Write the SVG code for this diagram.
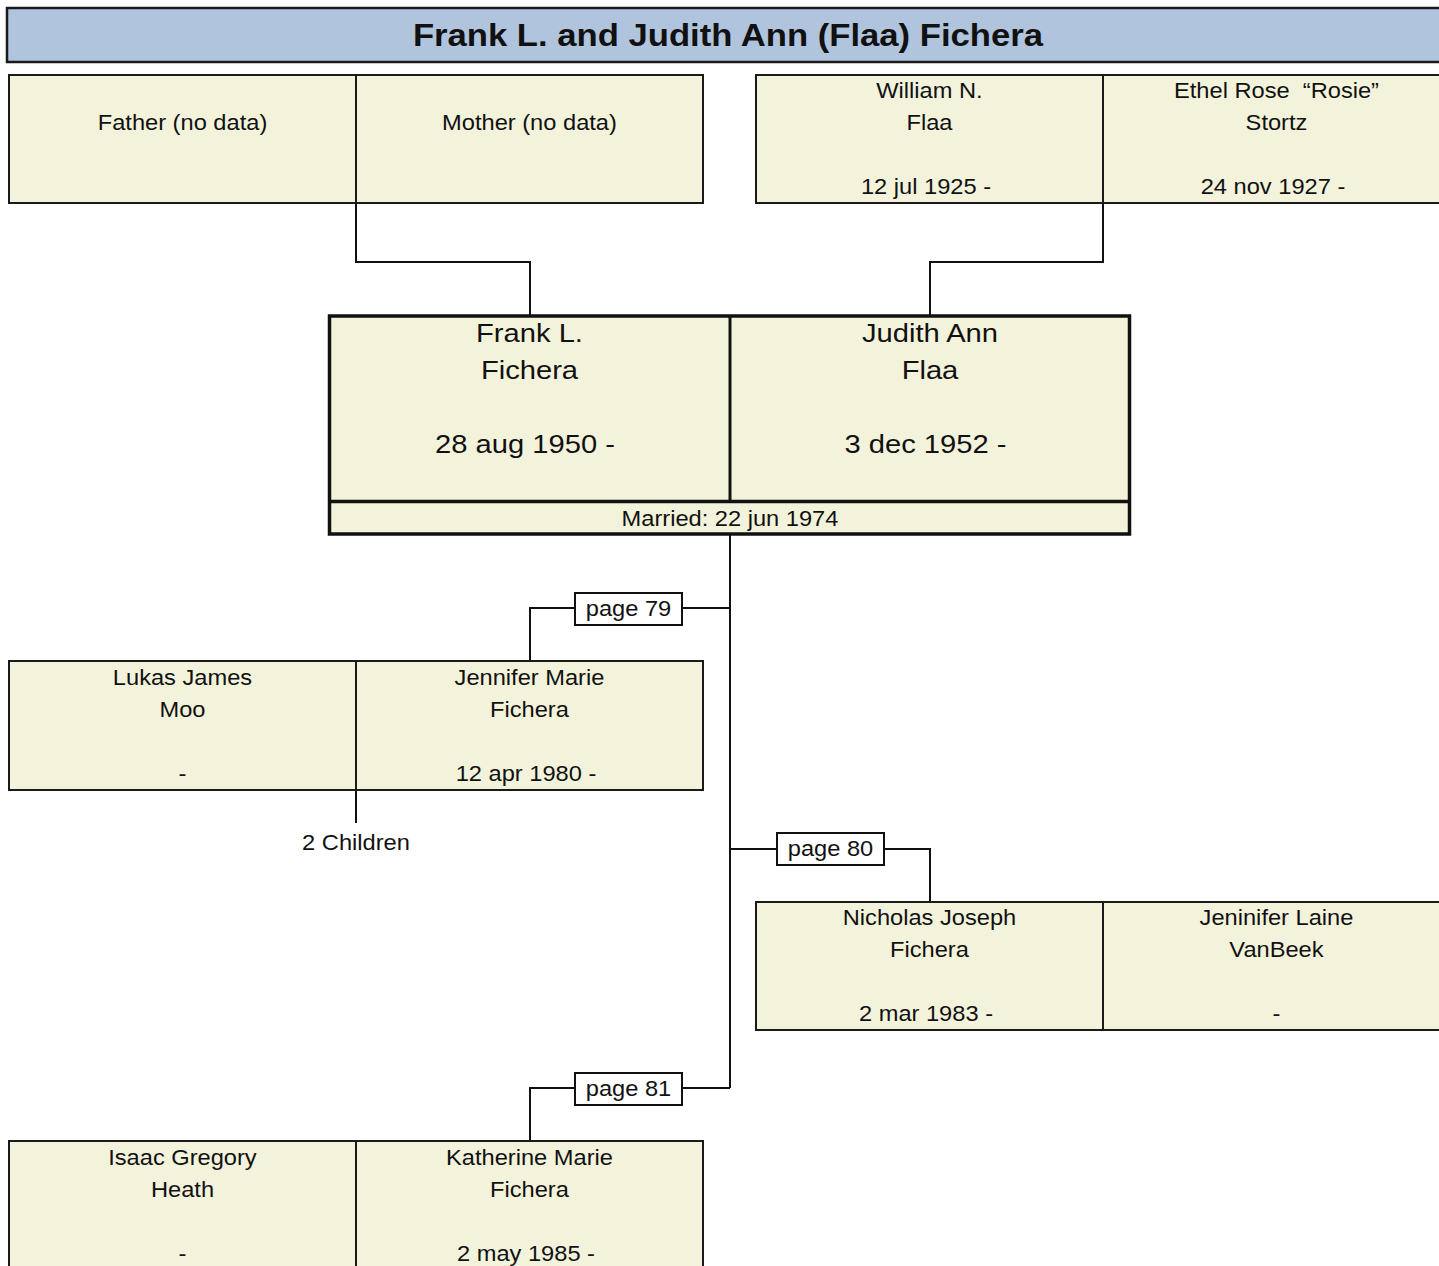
<svg xmlns="http://www.w3.org/2000/svg" width="1439" height="1266" viewBox="0 0 1439 1266">
<style>
.t{font-family:"Liberation Sans",Arial,sans-serif;font-size:21.5px;fill:#111;text-anchor:middle;transform-box:fill-box;transform-origin:center;transform:scaleX(1.1);white-space:pre}
.big{font-size:26.5px}
.title{font-weight:bold;font-size:31.5px}
.box{fill:#F3F3DC;stroke:#1a1a1a;stroke-width:2}
.main{fill:#F3F3DC;stroke:#111;stroke-width:3.5}
.pg{fill:#fff;stroke:#111;stroke-width:2}
.ln{fill:none;stroke:#111;stroke-width:2}
</style>
<rect width="1439" height="1266" fill="#fff"/>
<g id="title">
<rect x="7" y="8" width="1450" height="54" fill="#B0C4DE" stroke="#1a1a1a" stroke-width="2.5"/>
<text class="t title" x="728" y="46">Frank L. and Judith Ann (Flaa) Fichera</text>
</g>
<g id="connectors">
<path class="ln" d="M356 203V262H530V315"/>
<path class="ln" d="M1103 203V262H930V315"/>
<path class="ln" d="M730 535V1088"/>
<path class="ln" d="M730 608H682M575 608H530V661"/>
<path class="ln" d="M730 849H777M884 849H930V902"/>
<path class="ln" d="M730 1088H682M575 1088H530V1141"/>
<path class="ln" d="M356 790V823"/>
</g>
<g id="paternal-parents">
<rect class="box" x="9" y="75" width="347" height="128"/>
<rect class="box" x="356" y="75" width="347" height="128"/>
<text class="t" x="182.5" y="130">Father (no data)</text>
<text class="t" x="529.5" y="130">Mother (no data)</text>
</g>
<g id="maternal-parents">
<rect class="box" x="756" y="75" width="347" height="128"/>
<rect class="box" x="1103" y="75" width="347" height="128"/>
<text class="t" x="929.5" y="98">William N.</text>
<text class="t" x="929.5" y="130">Flaa</text>
<text class="t" x="926" y="194">12 jul 1925 -</text>
<text class="t" x="1276.5" y="98" xml:space="preserve">Ethel Rose  “Rosie”</text>
<text class="t" x="1276.5" y="130">Stortz</text>
<text class="t" x="1273" y="194">24 nov 1927 -</text>
</g>
<g id="couple">
<rect class="main" x="329.5" y="316" width="800" height="218"/>
<line x1="730" y1="316" x2="730" y2="501" stroke="#111" stroke-width="3"/>
<line x1="329.5" y1="501.5" x2="1129.5" y2="501.5" stroke="#111" stroke-width="3.5"/>
<text class="t big" x="529.5" y="342">Frank L.</text>
<text class="t big" x="529.5" y="379">Fichera</text>
<text class="t big" x="525" y="453">28 aug 1950 -</text>
<text class="t big" x="930" y="342">Judith Ann</text>
<text class="t big" x="930" y="379">Flaa</text>
<text class="t big" x="925.5" y="453">3 dec 1952 -</text>
<text class="t" x="730" y="526">Married: 22 jun 1974</text>
</g>
<g id="page79">
<rect class="pg" x="575" y="593" width="107" height="32"/>
<text class="t" x="628.5" y="616">page 79</text>
</g>
<g id="jennifer">
<rect class="box" x="9" y="661" width="347" height="129"/>
<rect class="box" x="356" y="661" width="347" height="129"/>
<text class="t" x="182.5" y="685">Lukas James</text>
<text class="t" x="182.5" y="717">Moo</text>
<text class="t" x="182.5" y="781">-</text>
<text class="t" x="529.5" y="685">Jennifer Marie</text>
<text class="t" x="529.5" y="717">Fichera</text>
<text class="t" x="526" y="781">12 apr 1980 -</text>
<text class="t" x="356" y="850">2 Children</text>
</g>
<g id="page80">
<rect class="pg" x="777" y="833" width="107" height="32"/>
<text class="t" x="830.5" y="856">page 80</text>
</g>
<g id="nicholas">
<rect class="box" x="756" y="902" width="347" height="128"/>
<rect class="box" x="1103" y="902" width="347" height="128"/>
<text class="t" x="929.5" y="925">Nicholas Joseph</text>
<text class="t" x="929.5" y="957">Fichera</text>
<text class="t" x="926" y="1021">2 mar 1983 -</text>
<text class="t" x="1276.5" y="925">Jeninifer Laine</text>
<text class="t" x="1276.5" y="957">VanBeek</text>
<text class="t" x="1276.5" y="1021">-</text>
</g>
<g id="page81">
<rect class="pg" x="575" y="1073" width="107" height="32"/>
<text class="t" x="628.5" y="1096">page 81</text>
</g>
<g id="katherine">
<rect class="box" x="9" y="1141" width="347" height="140"/>
<rect class="box" x="356" y="1141" width="347" height="140"/>
<text class="t" x="182.5" y="1165">Isaac Gregory</text>
<text class="t" x="182.5" y="1197">Heath</text>
<text class="t" x="182.5" y="1261">-</text>
<text class="t" x="529.5" y="1165">Katherine Marie</text>
<text class="t" x="529.5" y="1197">Fichera</text>
<text class="t" x="526" y="1261">2 may 1985 -</text>
</g>
</svg>
